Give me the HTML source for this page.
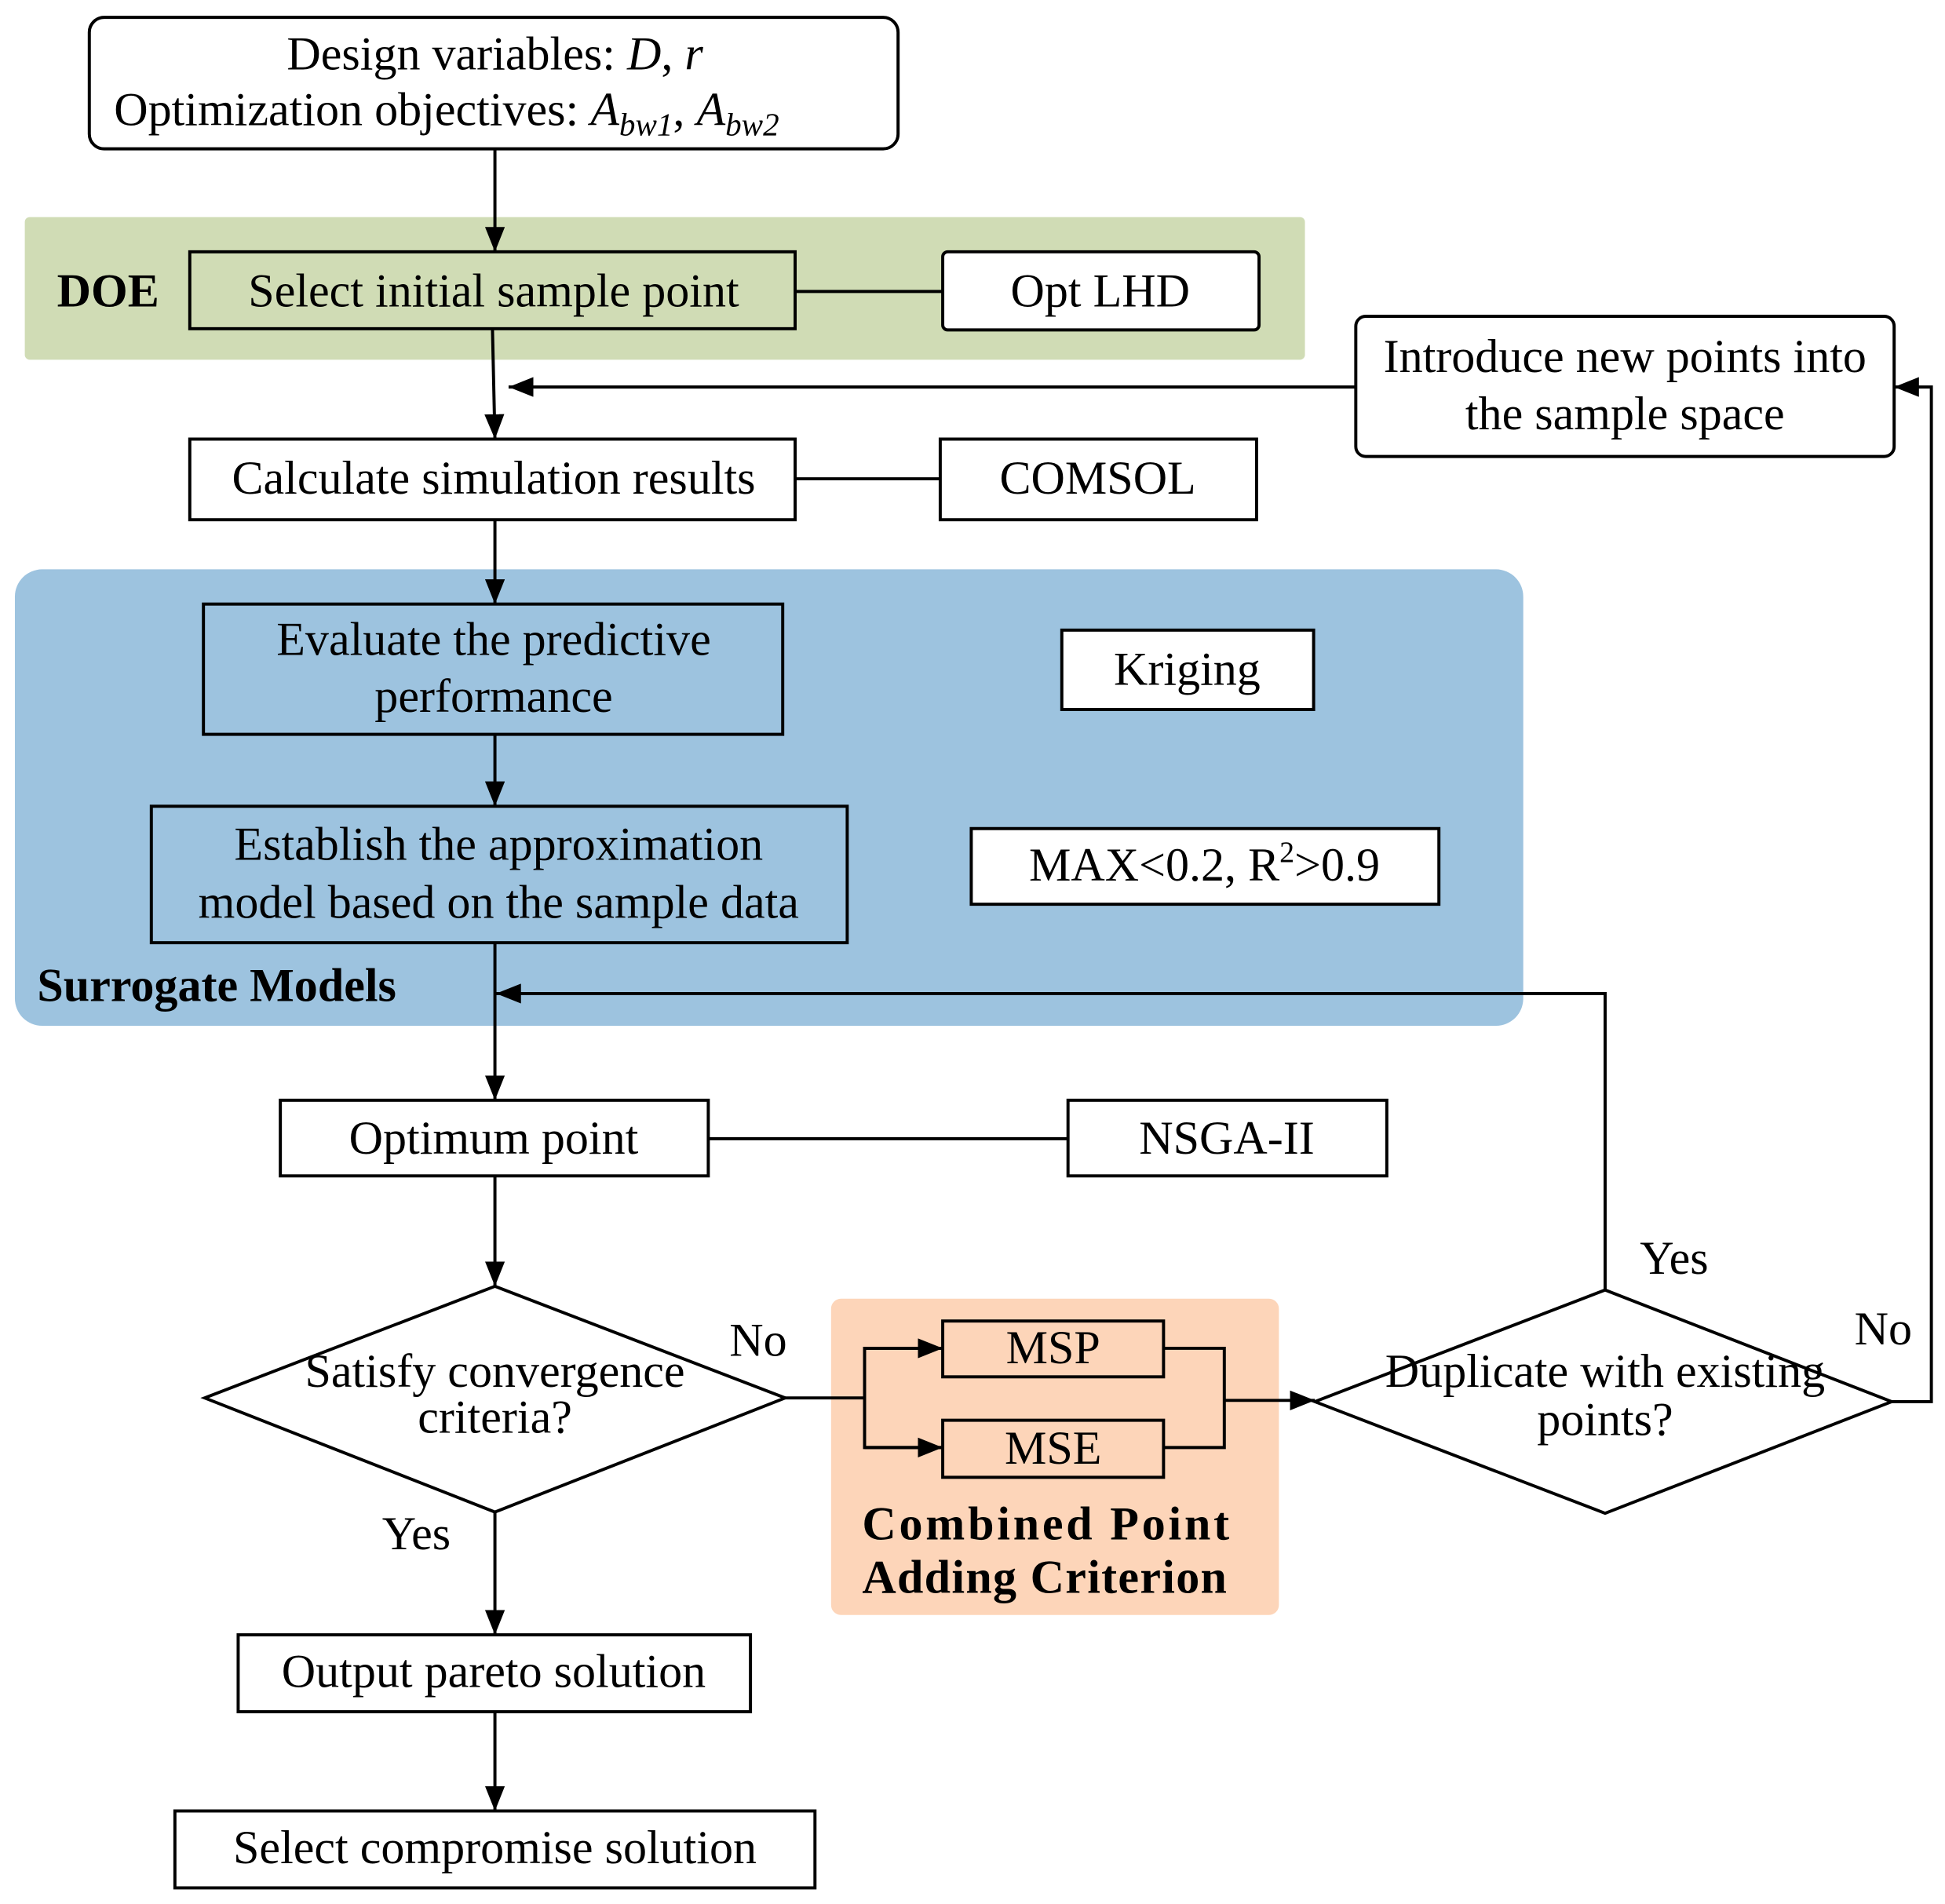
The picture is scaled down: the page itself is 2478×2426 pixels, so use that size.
<!DOCTYPE html>
<html><head><meta charset="utf-8"><style>
html,body{margin:0;padding:0;background:#fff}
svg{display:block}
text{font-family:"Liberation Serif",serif;font-size:38px;fill:#000}
.b{font-weight:bold}
</style></head><body>
<svg width="2478" height="2426" viewBox="0 0 1568 1535" preserveAspectRatio="none" xmlns="http://www.w3.org/2000/svg">
<defs>
<marker id="ar" markerWidth="20" markerHeight="16" refX="20" refY="8" orient="auto" markerUnits="userSpaceOnUse"><path d="M0,0 L20,8 L0,16 z" fill="#000"/></marker></defs>
<g stroke="#000" stroke-width="2.5" fill="none">
<rect x="20" y="175" width="1032" height="115" rx="4" fill="#d0dcb5" stroke="none"/>
<rect x="12" y="459" width="1216" height="368" rx="22" fill="#9dc3df" stroke="none"/>
<rect x="670" y="1047" width="361" height="255" rx="8" fill="#fdd5b9" stroke="none"/>
<rect x="72" y="14" width="652" height="106" rx="12" fill="#fff"/>
<rect x="153" y="203" width="488" height="62" fill="#d0dcb5"/>
<rect x="760" y="203" width="255" height="63" rx="4" fill="#fff"/>
<rect x="1093" y="255" width="434" height="113" rx="8" fill="#fff"/>
<rect x="153" y="354" width="488" height="65" fill="#fff"/>
<rect x="758" y="354" width="255" height="65" fill="#fff"/>
<rect x="164" y="487" width="467" height="105"/>
<rect x="856" y="508" width="203" height="64" fill="#fff"/>
<rect x="122" y="650" width="561" height="110"/>
<rect x="783" y="668" width="377" height="61" fill="#fff"/>
<rect x="226" y="887" width="345" height="61" fill="#fff"/>
<rect x="861" y="887" width="257" height="61" fill="#fff"/>
<polygon points="165,1127 399,1037 633,1127 399,1219" fill="#fff"/>
<polygon points="1060,1130 1294,1040 1525,1130 1294,1220" fill="#fff"/>
<rect x="760" y="1065" width="178" height="45"/>
<rect x="760" y="1145" width="178" height="46"/>
<rect x="192" y="1318" width="413" height="62" fill="#fff"/>
<rect x="141" y="1460" width="516" height="62" fill="#fff"/>
<line x1="641" y1="235" x2="760" y2="235"/>
<line x1="641" y1="386" x2="758" y2="386"/>
<line x1="571" y1="918" x2="861" y2="918"/>
<line x1="399" y1="120" x2="399" y2="203" marker-end="url(#ar)"/>
<line x1="397" y1="265" x2="399" y2="354" marker-end="url(#ar)"/>
<line x1="1093" y1="312" x2="410" y2="312" marker-end="url(#ar)"/>
<line x1="399" y1="419" x2="399" y2="487" marker-end="url(#ar)"/>
<line x1="399" y1="592" x2="399" y2="650" marker-end="url(#ar)"/>
<line x1="399" y1="760" x2="399" y2="887" marker-end="url(#ar)"/>
<polyline points="1294,1040 1294,801 400,801" marker-end="url(#ar)"/>
<line x1="399" y1="948" x2="399" y2="1037" marker-end="url(#ar)"/>
<line x1="399" y1="1219" x2="399" y2="1318" marker-end="url(#ar)"/>
<line x1="399" y1="1380" x2="399" y2="1460" marker-end="url(#ar)"/>
<polyline points="633,1127 697,1127"/>
<polyline points="760,1087 697,1087 697,1167 760,1167" />
<line x1="697" y1="1087" x2="760" y2="1087" marker-end="url(#ar)"/>
<line x1="697" y1="1167" x2="760" y2="1167" marker-end="url(#ar)"/>
<polyline points="938,1087 987,1087 987,1167 938,1167"/>
<line x1="987" y1="1129" x2="1060" y2="1129" marker-end="url(#ar)"/>
<polyline points="1525,1130 1557,1130 1557,312 1527,312" marker-end="url(#ar)"/>
</g>
<g text-anchor="middle">
<text x="399" y="56">Design variables: <tspan font-style="italic">D</tspan>, <tspan font-style="italic">r</tspan></text>
<text x="360" y="101">Optimization objectives: <tspan font-style="italic">A<tspan font-size="26" dy="8">bw</tspan><tspan font-size="26">1</tspan></tspan><tspan dy="-8">, </tspan><tspan font-style="italic">A<tspan font-size="26" dy="8">bw</tspan><tspan font-size="26">2</tspan></tspan></text>
<text x="398" y="247">Select initial sample point</text>
<text x="887" y="247">Opt LHD</text>
<text x="1310" y="300">Introduce new points into</text>
<text x="1310" y="346">the sample space</text>
<text x="398" y="398">Calculate simulation results</text>
<text x="885" y="398">COMSOL</text>
<text x="398" y="528">Evaluate the predictive</text>
<text x="398" y="574">performance</text>
<text x="957" y="552">Kriging</text>
<text x="402" y="693">Establish the approximation</text>
<text x="402" y="740">model based on the sample data</text>
<text x="971" y="710">MAX&lt;0.2, R<tspan font-size="24" dy="-15">2</tspan><tspan dy="15">&gt;0.9</tspan></text>
<text x="398" y="930">Optimum point</text>
<text x="989" y="930">NSGA-II</text>
<text x="399" y="1118">Satisfy convergence</text>
<text x="399" y="1155">criteria?</text>
<text x="849" y="1099">MSP</text>
<text x="849" y="1180">MSE</text>
<text x="1294" y="1118">Duplicate with existing</text>
<text x="1294" y="1157">points?</text>
<text x="398" y="1360">Output pareto solution</text>
<text x="399" y="1502">Select compromise solution</text>
</g>
<text x="46" y="247" class="b">DOE</text>
<text x="30" y="807" class="b">Surrogate Models</text>
<text x="695" y="1241" class="b" textLength="296">Combined  Point</text>
<text x="695" y="1284" class="b" textLength="294">Adding  Criterion</text>
<text x="588" y="1093">No</text>
<text x="308" y="1249">Yes</text>
<text x="1322" y="1027">Yes</text>
<text x="1495" y="1084">No</text>
</svg>
</body></html>
